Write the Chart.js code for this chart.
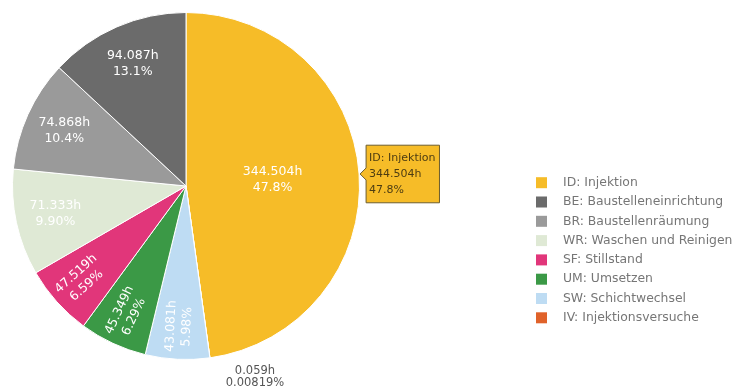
<!DOCTYPE html>
<html>
<head>
<meta charset="utf-8">
<script src="https://cdn.jsdelivr.net/npm/chart.js@4.4.1/dist/chart.umd.min.js"></script>
<style>
  html, body { margin: 0; padding: 0; background: #fff; overflow: hidden; }
  #wrap { position: relative; width: 734px; height: 391px; }
</style>
</head>
<body>
<div id="wrap"><canvas id="graficoStunden"></canvas></div>
<script>
// Kategorien in Zeichenreihenfolge (im Uhrzeigersinn ab 12 Uhr)
const kategorien = [
    'ID: Injektion',
    'IV: Injektionsversuche',
    'SW: Schichtwechsel',
    'UM: Umsetzen',
    'SF: Stillstand',
    'WR: Waschen und Reinigen',
    'BR: Baustellenräumung',
    'BE: Baustelleneinrichtung'
];
const stunden = [344.504, 0.059, 43.081, 45.349, 47.519, 71.333, 74.868, 94.087];
const farben = ['#f6bc28', '#e0622a', '#bedcf3', '#3b9946', '#e1367a', '#dfe9d5', '#9a9a9a', '#6b6b6b'];
// Reihenfolge in der Legende (Index in kategorien)
const legendeReihenfolge = [0, 7, 6, 5, 4, 3, 2, 1];

const SCHRIFT = '"DejaVu Sans", Verdana, sans-serif';
const summe = stunden.reduce((a, b) => a + b, 0);
const fmtH = v => v.toFixed(3) + 'h';
const fmtPct = v => (v / summe * 100).toPrecision(3) + '%';

// Tooltip am Rand des Segments
Chart.Tooltip.positioners.rand = function(items) {
    if (!items.length) return false;
    const el = items[0].element;
    const mid = (el.startAngle + el.endAngle) / 2;
    return { x: el.x + Math.cos(mid) * el.outerRadius, y: el.y + Math.sin(mid) * el.outerRadius };
};

// Beschriftung der Segmente
const segmentLabels = {
    id: 'segmentLabels',
    afterDatasetsDraw(chart) {
        const ctx = chart.ctx;
        const meta = chart.getDatasetMeta(0);
        ctx.save();
        ctx.font = '12.5px ' + SCHRIFT;
        ctx.textAlign = 'center';
        ctx.textBaseline = 'middle';
        meta.data.forEach((el, i) => {
            const v = stunden[i];
            const anteil = v / summe;
            const mid = (el.startAngle + el.endAngle) / 2;
            const R = el.outerRadius;
            const z1 = fmtH(v), z2 = fmtPct(v);
            if (anteil < 0.01) {
                // winziges Segment: Text außerhalb
                const ex = el.x + Math.cos(el.startAngle) * R;
                const ey = el.y + Math.sin(el.startAngle) * R;
                ctx.fillStyle = '#555';
                ctx.font = '11.5px ' + SCHRIFT;
                ctx.fillText(z1, ex + 45, ey + 13);
                ctx.fillText(z2, ex + 45, ey + 25);
                ctx.font = '12.5px ' + SCHRIFT;
                return;
            }
            let f = 0.77;
            if (anteil > 0.3) f = 0.5;
            if (anteil < 0.08) f = 0.81;
            const x = el.x + Math.cos(mid) * R * f;
            const y = el.y + Math.sin(mid) * R * f;
            ctx.save();
            ctx.translate(x, y);
            if (anteil < 0.08) {
                ctx.rotate(Math.cos(mid) < 0 ? mid + Math.PI : mid);
            }
            ctx.fillStyle = '#ffffff';
            ctx.fillText(z1, 0, -8);
            ctx.fillText(z2, 0, 8);
            ctx.restore();
        });
        ctx.restore();
    }
};

// Legende rechts
const seitenLegende = {
    id: 'seitenLegende',
    afterDatasetsDraw(chart) {
        const ctx = chart.ctx;
        ctx.save();
        ctx.font = '12.4px ' + SCHRIFT;
        ctx.textBaseline = 'middle';
        ctx.textAlign = 'left';
        legendeReihenfolge.forEach((idx, n) => {
            const y = 182.7 + n * 19.3;
            ctx.fillStyle = farben[idx];
            ctx.fillRect(536, y - 5.5, 11, 11);
            ctx.fillStyle = '#767676';
            ctx.fillText(kategorien[idx], 563, y);
        });
        ctx.restore();
    }
};

const chart = new Chart(document.getElementById('graficoStunden'), {
    type: 'pie',
    data: {
        labels: kategorien,
        datasets: [{
            data: stunden,
            backgroundColor: farben,
            borderColor: '#ffffff',
            borderWidth: 1,
            hoverOffset: 0
        }]
    },
    options: {
        responsive: true,
        maintainAspectRatio: false,
        animation: false,
        events: [],
        rotation: 0,
        layout: { padding: { left: 12, top: 12, right: 374, bottom: 31 } },
        plugins: {
            legend: { display: false },
            tooltip: {
                enabled: true,
                position: 'rand',
                xAlign: 'left',
                yAlign: 'center',
                backgroundColor: farben[0],
                borderColor: '#6d5e2e',
                borderWidth: 1,
                cornerRadius: 0,
                caretSize: 6,
                caretPadding: 1,
                displayColors: false,
                padding: { top: 6, bottom: 6, left: 3, right: 4 },
                titleColor: '#4d3d12',
                bodyColor: '#4d3d12',
                titleFont: { family: SCHRIFT, size: 11, weight: 'normal' },
                bodyFont: { family: SCHRIFT, size: 11 },
                titleMarginBottom: 3,
                bodySpacing: 3,
                callbacks: {
                    title: items => kategorien[items[0].dataIndex],
                    label: c => [fmtH(c.raw), fmtPct(c.raw)]
                }
            }
        }
    },
    plugins: [segmentLabels, seitenLegende]
});

chart.tooltip.setActiveElements([{ datasetIndex: 0, index: 0 }], { x: 0, y: 0 });
chart.update();
</script>
</body>
</html>
